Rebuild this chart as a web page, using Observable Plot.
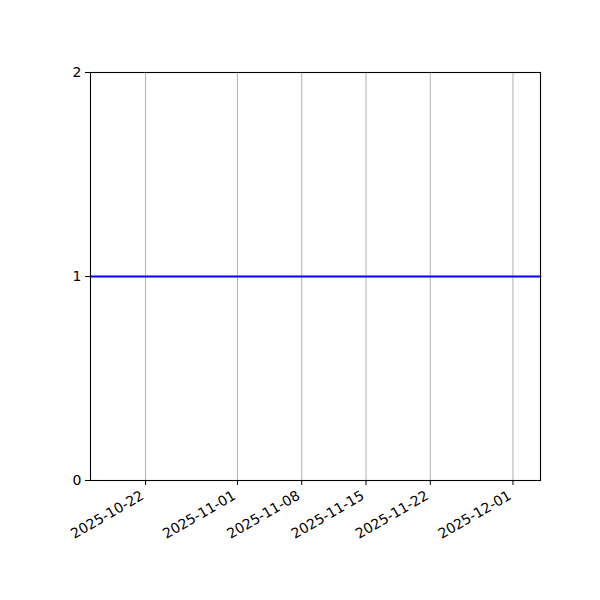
<!DOCTYPE html>
<html>
<head>
<meta charset="utf-8">
<script src="https://cdn.jsdelivr.net/npm/d3@7"></script>
<script src="https://cdn.jsdelivr.net/npm/@observablehq/plot@0.6"></script>
<style>
  html, body { margin: 0; padding: 0; background: #fff; }
  #chart svg { font-family: "DejaVu Sans", sans-serif; }
</style>
</head>
<body>
<div id="chart"></div>
<script>
const dates = ["2025-10-16", "2025-10-22", "2025-11-01", "2025-11-08", "2025-11-15", "2025-11-22", "2025-12-01", "2025-12-04"];
const values = [1, 1, 1, 1, 1, 1, 1, 1];
const xTickLabels = ["2025-10-22", "2025-11-01", "2025-11-08", "2025-11-15", "2025-11-22", "2025-12-01"];
const yTicks = [0, 1, 2];
const xDomain = ["2025-10-16", "2025-12-04"];
const yDomain = [0, 2];

const parse = d3.utcParse("%Y-%m-%d");
const fmt = d3.utcFormat("%Y-%m-%d");
const data = dates.map((d, i) => ({date: parse(d), value: values[i]}));
const xTicks = xTickLabels.map(parse);

const plot = Plot.plot({
  width: 600,
  height: 600,
  marginLeft: 90,
  marginRight: 60,
  marginTop: 72,
  marginBottom: 120,
  style: {fontFamily: "DejaVu Sans, sans-serif", fontSize: "14px", background: "#fff", color: "#000"},
  x: {type: "utc", domain: xDomain.map(parse)},
  y: {domain: yDomain},
  marks: [
    Plot.ruleX(xTicks, {stroke: "#b0b0b0", strokeWidth: 1}),
    Plot.line(data, {x: "date", y: "value", stroke: "#0000ff", strokeWidth: 2}),
    Plot.frame({stroke: "#000", strokeWidth: 1.1}),
    Plot.axisX({ticks: xTicks, tickSize: 5, label: null, stroke: "#000", strokeOpacity: 1, tickFormat: () => ""}),
    Plot.axisX({ticks: xTicks, tickFormat: fmt, tickRotate: -30, tickSize: 0, tickPadding: 9, dx: -3, dy: 5, label: null, fontSize: 14}),
    Plot.axisY({ticks: yTicks, tickFormat: d3.format("d"), tickSize: 5, tickPadding: 4, label: null, stroke: "#000", strokeOpacity: 1, fontSize: 14})
  ]
});
document.getElementById("chart").appendChild(plot);
</script>
</body>
</html>
